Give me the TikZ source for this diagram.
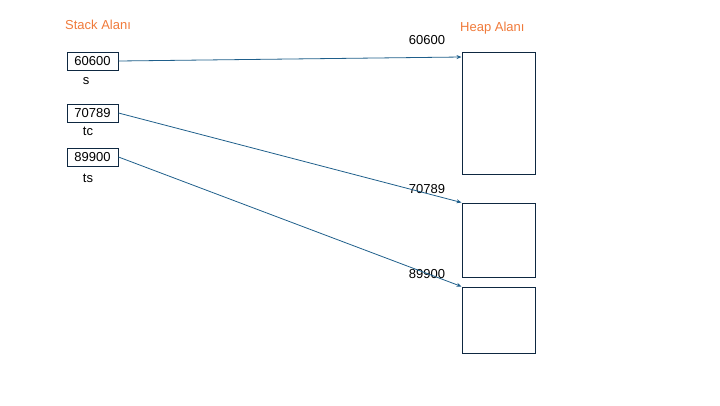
\documentclass[tikz,border=0pt]{standalone}
\usepackage{fontspec}
\setmainfont{Liberation Sans}
\usetikzlibrary{arrows.meta}
\definecolor{navy}{HTML}{0E2841}
\definecolor{arr}{HTML}{1F5F8B}
\definecolor{orng}{HTML}{F07A3A}
\begin{document}
\begin{tikzpicture}[x=1pt,y=-1pt,
  txt/.style={font=\fontsize{13}{15}\selectfont, inner sep=0pt},
  title/.style={txt, text=orng},
  stackbox/.style={draw=navy, line width=1pt, minimum width=51pt, minimum height=18pt, inner sep=0pt, font=\fontsize{13}{15}\selectfont},
  heapbox/.style={draw=navy, line width=1pt, inner sep=0pt},
  link/.style={draw=arr, line width=0.8pt, -{Stealth[length=5pt,width=4pt]}}]
\useasboundingbox (0,0) rectangle (720,405);
\node[title, anchor=west] (st) at (65,25) {Stack Alanı};
\node[title, anchor=west] (ht) at (460,28) {Heap Alanı};
\node[stackbox] (b1) at (92.5,61) {60600};
\node[stackbox] (b2) at (92.5,113) {70789};
\node[stackbox] (b3) at (92.5,157) {89900};
\node[txt] (l1) at (86,81) {s};
\node[txt] (l2) at (88,131) {tc};
\node[txt] (l3) at (88,178) {ts};
\node[heapbox, minimum width=73pt, minimum height=122pt] (h1) at (498.5,113) {};
\node[heapbox, minimum width=73pt, minimum height=74pt] (h2) at (498.5,240) {};
\node[heapbox, minimum width=73pt, minimum height=66pt] (h3) at (498.5,320) {};
\node[txt] (a1) at (427,40) {60600};
\node[txt] (a2) at (427,189) {70789};
\node[txt] (a3) at (427,274) {89900};
\coordinate (e1) at (h1.north west |- 0,57);
\path[link] (b1.east) -- (e1);
\path[link] (b2.east) -- (h2.north west);
\path[link] (b3.east) -- (h3.north west);
\end{tikzpicture}
\end{document}
